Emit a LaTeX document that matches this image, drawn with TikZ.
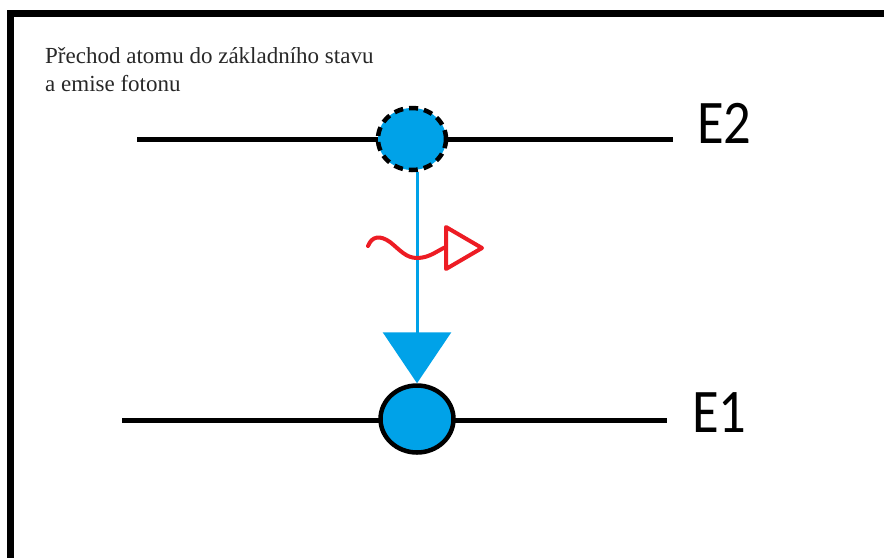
\documentclass[tikz,border=0pt]{standalone}
\usepackage{fontspec}
\setmainfont{Liberation Serif}
\newfontfamily\levelfont{Carlito}
\usetikzlibrary{arrows.meta,shapes.geometric}
\definecolor{atomblue}{RGB}{0,162,232}
\definecolor{photonred}{RGB}{237,28,36}
\definecolor{titlegray}{RGB}{40,40,40}
\tikzset{
  frame/.style={fill=black},
  level/.style={line width=5pt},
  atom/.style={ellipse, fill=atomblue, draw=black, line width=4.5pt},
  leveltext/.style={font=\levelfont\fontsize{62}{62}\selectfont, anchor=base west,
    inner sep=0pt, xscale=0.88, transform shape},
  titletext/.style={font=\fontsize{23}{27}\selectfont, text=titlegray, anchor=base west, inner sep=0pt},
  photon/.style={draw=photonred, line width=4pt, line cap=round, line join=round},
}
\begin{document}
\begin{tikzpicture}[x=1pt,y=-1pt]
  \useasboundingbox[fill=white] (0,0) rectangle (884,558);
  % frame edges (top and left only)
  \fill[frame] (7,10) rectangle (884,17);
  \fill[frame] (7,10) rectangle (14,558);

  % title
  \node[titletext] (title1) at (45,63) {Přechod atomu do základního stavu};
  \node[titletext] (title2) at (45,91) {a emise fotonu};

  % energy levels
  \coordinate (e2l) at (137,139);
  \coordinate (e2r) at (673,139);
  \coordinate (e1l) at (122,420);
  \coordinate (e1r) at (667,420);
  \draw[level] (e2l) -- (e2r);
  \draw[level] (e1l) -- (e1r);
  \node[leveltext] (e2) at (697,143) {E2};
  \node[leveltext] (e1) at (692,432) {E1};

  % atom in excited state (dashed) and ground state
  \node[atom, dash pattern=on 9pt off 6pt, minimum width=68pt, minimum height=62pt,
        inner sep=0pt] (upper) at (412,139) {};
  \node[atom, minimum width=73pt, minimum height=67pt, inner sep=0pt] (lower) at (417,419) {};

  % transition arrow
  \draw[atomblue, line width=3pt, -{Triangle[length=51pt,width=68pt]}]
    (upper.south -| lower.north) -- (lower.north);

  % emitted photon
  \coordinate (w0) at (368,246);
  \coordinate (w1) at (417,258);
  \coordinate (w2) at (446,247);
  \draw[photon] (w0) .. controls (372,236) and (380,235) .. (390,242)
    .. controls (400,250) and (406,258) .. (w1)
    .. controls (430,258) and (438,250) .. (w2);
  \coordinate (pt) at (446,227);
  \coordinate (pr) at (482,248);
  \coordinate (pb) at (446,269);
  \draw[photon] (pt) -- (pr) -- (pb) -- cycle;
\end{tikzpicture}
\end{document}
